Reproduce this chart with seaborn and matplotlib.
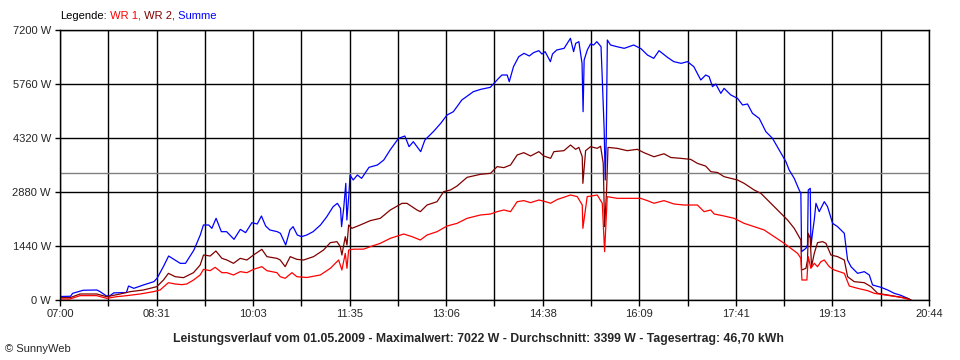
import matplotlib
matplotlib.use("Agg")
import matplotlib.pyplot as plt
import seaborn as sns
import numpy as np

# times are minutes after 07:00, power in W
t_sum = [0, 10, 12, 22, 35, 38, 44, 47, 51, 63, 65, 70, 79, 89, 92, 98, 103, 108, 114, 119,
         127, 133, 136, 141, 144, 148, 153, 158, 165, 171, 176, 182, 187, 191, 195, 199, 206,
         209, 214, 218, 221, 225, 229, 234, 240, 247, 253, 259, 263, 266, 267, 269, 271, 272, 274, 275,
         278, 282, 286, 293, 301, 307, 313, 321, 327, 331, 335, 342, 346, 354, 361, 367, 373, 381, 392, 399,
         408, 415, 419, 424, 426, 430, 435, 440, 445, 449, 454, 457, 460, 465, 467, 471, 478, 484, 487, 489,
         492, 495, 496, 497, 500, 503, 506, 509, 513, 514, 516, 517, 518, 519, 522, 528, 535, 544, 551, 557,
         563, 568, 576, 582, 589, 595, 601,
         607.6, 612.3, 615.5, 618.7, 621.8, 626.6, 629.7, 636.1, 642.4, 647.2, 651.9, 656.6, 663.0, 669.3,
         675.6, 682.0, 688.3, 691.4, 696.2, 700.9, 702.5, 703.2, 707.3, 708.8, 709.5, 711.4, 712.0, 713.6,
         715.2, 716.8, 719.9, 724.7, 727.8, 732.6, 737.3, 743.7, 746.8, 750.0, 756.3, 762.6, 767.4, 770.5,
         778.5, 784.8, 791.1, 797.4, 803.8, 806.9]
summe = [93, 100, 178, 260, 267, 222, 110, 107, 190, 200, 373, 311, 400, 489, 578, 889, 1173, 1084, 978, 978,
         1333, 1733, 2000, 2000, 1911, 2178, 1822, 1822, 1618, 1884, 1796, 2062, 2027, 2240, 1973, 1867, 1822,
         1778, 1467, 1867, 1956, 1733, 1689, 1733, 1822, 2000, 2222, 2489, 2578, 2444, 1956, 2444, 3111, 2133, 2844, 3333,
         3200, 3333, 3244, 3538, 3600, 3733, 4000, 4311, 4373, 4089, 4222, 3956, 4267, 4489, 4711, 4933, 5022, 5333, 5556, 5618,
         5671, 5884, 6000, 6000, 5822, 6222, 6489, 6578, 6507, 6596, 6649, 6560, 6622, 6356, 6560, 6667, 6711, 6978, 6622, 6844,
         6889, 6311, 5022, 6400, 6667, 6827, 6800, 6889, 6756, 6044, 4533, 3200, 4356, 6933, 6800, 6756, 6711, 6800, 6700, 6533,
         6444, 6649, 6471, 6356, 6311, 6356, 6222,
         5867, 6000, 5956, 5689, 5760, 5511, 5644, 5467, 5378, 5200, 5227, 4978, 4844, 4489,
         4311, 4000, 3689, 3467, 3244, 2933, 2844, 1289, 1378, 1467, 2933, 2978, 1422, 1800,
         2133, 2578, 2356, 2622, 2489, 2044, 1956, 1778, 1067, 889, 711, 756, 667, 400,
         338, 267, 178, 124, 44, 0]

t_wr2 = [0, 9.5, 19.0, 34.8, 44.3, 57.0, 66.4, 79.1, 91.8, 98.1, 102.8, 109.2, 117.1, 126.6, 132.9, 136.1,
         142.4, 147.8, 153.5, 158.2, 164.5, 170.9, 177.2, 183.5, 191.4, 196.2, 205.7,
         208.8, 213.5, 218.3, 224.6, 231.0, 240.4, 249.9, 256.3, 262.6, 265.8, 267.3, 270.5, 272.1, 273.7,
         276.8, 284.7, 294.2, 303.7, 313.2, 324.3, 329.0, 338.5, 341.7, 348.0, 357.5, 363.8, 370.2, 376.5, 386.0, 398.6,
         408.2, 414.5, 420.9, 427.2, 433.5, 439.8, 446.2, 454.1, 458.8, 465.2, 468.3, 477.8, 484.1, 488.9, 492.0,
         495.2, 495.8, 498.4, 503.1, 509.4, 512.6, 515.1, 516.4, 518.3, 519.6, 528.4, 537.9, 547.4, 553.7, 563.2,
         572.7, 579.1, 588.5, 598.0, 604.4,
         612.3, 617.1, 623.4, 629.7, 636.1, 642.4, 648.7, 658.2, 664.6, 670.9, 677.2, 683.5, 689.9, 696.2, 702.5,
         703.2, 707.3, 708.8, 709.5, 711.4, 712.6, 715.2, 718.3, 723.1, 726.3, 731.0, 737.3, 743.7, 746.8, 753.1,
         762.6, 769.0, 775.3, 784.8, 794.3, 803.8, 806.9]
wr2 = [62, 62, 160, 160, 89, 160, 222, 267, 356, 533, 711, 622, 596, 729, 933, 1200,
       1173, 1307, 1111, 1067, 978, 1111, 1067, 1200, 1351, 1156, 1111,
       1067, 889, 1156, 1084, 1067, 1156, 1333, 1529, 1556, 1422, 1200, 1689, 1467, 2000,
       1911, 2000, 2116, 2178, 2400, 2578, 2578, 2400, 2356, 2533, 2622, 2889, 2933, 3040, 3271, 3351,
       3378, 3556, 3530, 3600, 3867, 3929, 3840, 3956, 3840, 3778, 3956, 3982, 4133, 4018, 4070,
       3820, 3111, 3982, 4089, 4044, 4100, 3644, 1956, 2933, 4070, 4044, 3982, 4018, 3929, 3820,
       3900, 3800, 3778, 3750, 3644,
       3570, 3422, 3400, 3289, 3244, 3200, 3111, 2933, 2844, 2667, 2489, 2311, 2133, 1911, 1600,
       800, 844, 1067, 1778, 1644, 889, 1244, 1529, 1556, 1511, 1200, 1156, 1067, 622, 489,
       462, 356, 178, 133, 89, 44, 0]

t_wr1 = [0, 9.5, 19.0, 34.8, 44.3, 53.8, 63.3, 75.9, 88.6, 94.9, 102.8, 109.2, 115.5, 120.2, 126.6, 132.9,
         136.1, 142.4, 147.1, 153.5, 158.2, 164.5, 170.9, 177.2, 183.5, 191.4, 196.2, 205.7,
         208.8, 213.5, 219.9, 224.6, 234.1, 246.8, 256.3, 264.2, 267.3, 270.5, 272.1, 273.7, 278.4,
         287.9, 294.2, 303.7, 313.2, 325.9, 333.8, 341.7, 348.0, 357.5, 367.0, 376.5, 386.0, 398.6,
         408.2, 414.5, 420.9, 427.2, 433.5, 439.8, 446.2, 454.1, 460.4, 465.2, 471.5, 484.1, 490.5, 495.2,
         495.8, 499.9, 509.4, 514.2, 516.4, 518.9, 528.4, 541.1, 550.6, 556.9, 563.2, 572.7, 582.2, 591.7,
         604.4, 610.7,
         617.0, 620.3, 629.7, 639.2, 648.7, 658.2, 667.7, 677.2, 686.7, 693.0, 699.4, 702.5, 703.5, 708.2,
         709.5, 712.0, 715.2, 718.3, 721.5, 724.7, 729.4, 734.2, 743.7, 748.4, 756.3, 765.8, 772.1, 784.8,
         797.4, 805.4]
wr1 = [27, 27, 116, 116, 44, 89, 116, 160, 222, 267, 462, 427, 409, 427, 533, 667,
       818, 782, 871, 729, 729, 667, 756, 729, 818, 889, 782, 729,
       622, 578, 729, 622, 600, 667, 844, 1067, 800, 1244, 844, 1333, 1356,
       1356, 1422, 1511, 1644, 1760, 1689, 1600, 1733, 1822, 1973, 2044, 2178, 2267,
       2293, 2356, 2400, 2356, 2622, 2650, 2596, 2667, 2622, 2580, 2680, 2800, 2756, 2533,
       1911, 2756, 2800, 2580, 1289, 2756, 2711, 2711, 2711, 2650, 2580, 2650, 2560, 2533,
       2533, 2356,
       2400, 2293, 2240, 2178, 2044, 1956, 1867, 1689, 1511, 1378, 1244, 1111, 533, 533,
       1156, 844, 978, 889, 1022, 1067, 889, 800, 711, 373, 311, 249, 178, 124,
       71, 9]

x_labels = ["07:00", "08:31", "10:03", "11:35", "13:06", "14:38", "16:09", "17:41", "19:13", "20:44"]
y_ticks = [0, 1440, 2880, 4320, 5760, 7200]
durchschnitt = 3399
span = 824  # 07:00 .. 20:44 in minutes

sns.set_style("white")
plt.rcParams["font.family"] = ["Liberation Sans", "DejaVu Sans"]

fig = plt.figure(figsize=(9.6, 3.6), dpi=100)
ax = fig.add_axes([60 / 960, 60 / 360, 869 / 960, 270 / 360])

# grid + average line
ax.set_xticks(np.linspace(0, span, len(x_labels)))
ax.set_xticks(np.linspace(0, span, 2 * len(x_labels) - 1), minor=True)
ax.set_xticklabels(x_labels)
ax.set_yticks(y_ticks)
ax.set_yticklabels([f"{v} W" for v in y_ticks])
ax.grid(True, which="both", axis="x", color="black", lw=1)
ax.grid(True, which="major", axis="y", color="black", lw=1)
ax.set_axisbelow(True)
ax.axhline(durchschnitt, color="#808080", lw=1, zorder=1.5)

sns.lineplot(x=t_sum, y=summe, ax=ax, color="#0000ff", lw=0.9, estimator=None, sort=False)
sns.lineplot(x=t_wr2, y=wr2, ax=ax, color="#800000", lw=0.9, estimator=None, sort=False)
sns.lineplot(x=t_wr1, y=wr1, ax=ax, color="#ff0000", lw=0.9, estimator=None, sort=False)

ax.set_xlim(0, span)
ax.set_ylim(0, 7200)
for sp in ax.spines.values():
    sp.set_color("black")
    sp.set_linewidth(1)
ax.tick_params(axis="x", which="both", direction="out", length=4.5, width=1, color="black",
               labelsize=8, pad=2)
ax.tick_params(axis="y", direction="out", length=3.5, width=1, color="black", labelsize=8, pad=3)
ax.tick_params(left=True, bottom=True)
ax.tick_params(axis="x", which="minor", bottom=True)

# coloured legend line on top
renderer = fig.canvas.get_renderer()
x = 60 / 960
for s, c in [("Legende:", "black"), (" WR 1,", "#ff0000"), (" WR 2,", "#800000"), (" Summe", "#0000ff")]:
    txt = fig.text(x, 1 - 16 / 360, s, color=c, fontsize=8, va="center", ha="left")
    bb = txt.get_window_extent(renderer)
    x = fig.transFigure.inverted().transform((bb.x1, bb.y0))[0]

fig.text(478 / 960, 1 - 339 / 360,
         "Leistungsverlauf vom 01.05.2009 - Maximalwert: 7022 W - Durchschnitt: 3399 W - Tagesertrag: 46,70 kWh",
         fontsize=8.8, fontweight="bold", ha="center", va="center")
fig.text(5 / 960, 1 - 349 / 360, "© SunnyWeb", fontsize=8, ha="left", va="center")

fig.savefig("out.png", dpi=100, facecolor="white")
